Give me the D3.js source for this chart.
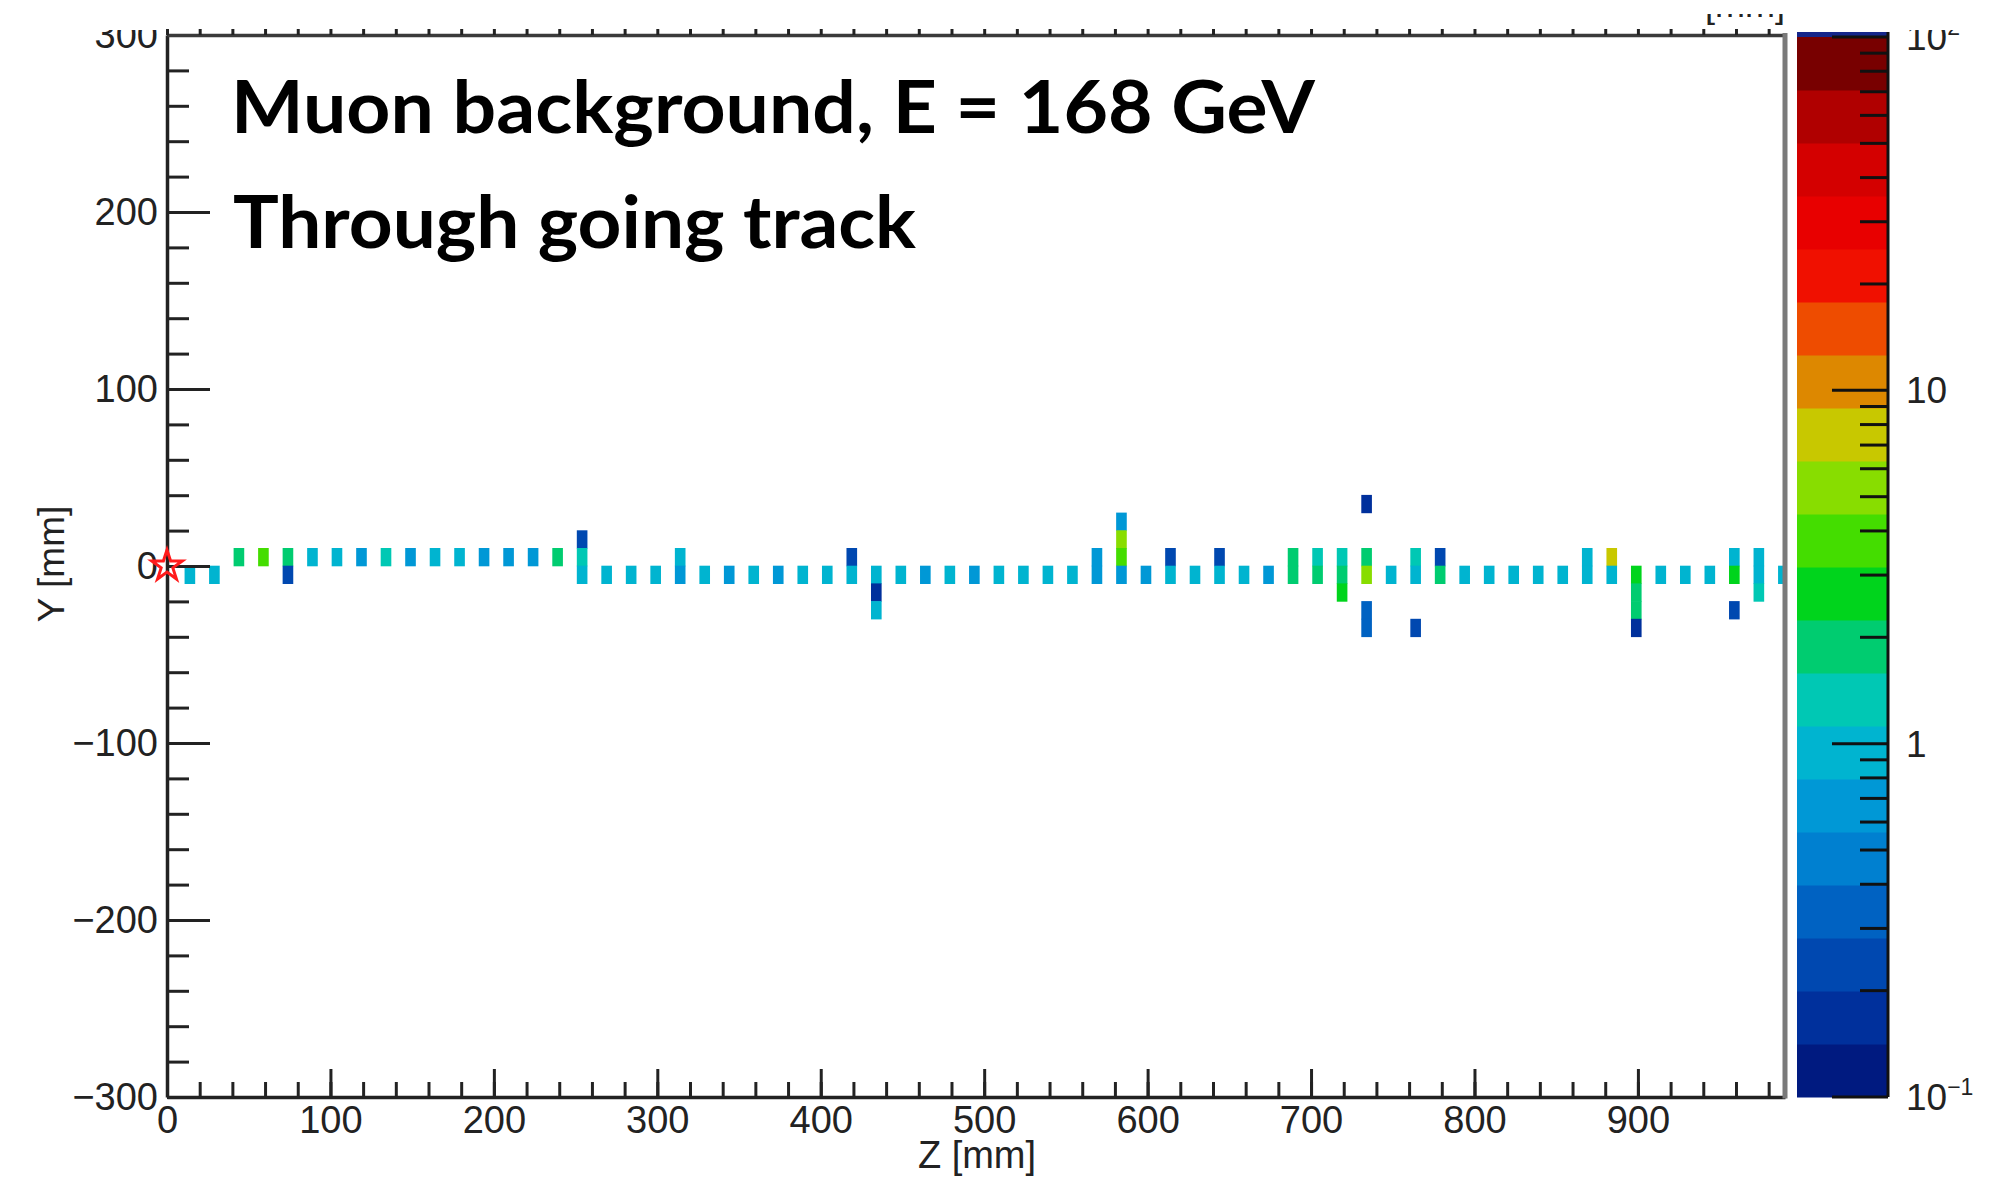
<!DOCTYPE html>
<html>
<head>
<meta charset="utf-8">
<script src="https://cdn.jsdelivr.net/npm/d3@7"></script>
<style>
html,body{margin:0;padding:0;background:#fff;}
svg{display:block;}
</style>
</head>
<body>
<svg id="chart" width="1999" height="1179"></svg>
<script>
// ---------------- data ----------------
const titleLines = ["Muon background, E = 168 GeV", "Through going track"];
const xTickLabels = [0, 100, 200, 300, 400, 500, 600, 700, 800, 900];
const yTickLabels = [-300, -200, -100, 0, 100, 200, 300];
const colorTickLabels = [0.1, 1, 10, 100];

// hit cells: z position of plane (mm), lower edge of Y bin (mm), deposited value
const hitZ = [14,29,44,59,74,74,89,104,119,134,149,164,179,194,209,224,239,254,254,254,
  269,284,299,314,314,329,344,359,374,389,404,419,419,434,434,434,449,464,479,494,509,524,539,554,
  569,569,584,584,584,584,599,614,614,629,644,644,659,674,689,689,704,704,719,719,719,
  734,734,734,734,734,749,764,764,764,779,779,794,809,824,839,854,869,869,884,884,
  899,899,899,899,914,929,944,959,959,959,974,974,974,989];
const hitY = [-10,-10,0,0,0,-10,0,0,0,0,0,0,0,0,0,0,0,10,0,-10,
  -10,-10,-10,0,-10,-10,-10,-10,-10,-10,-10,0,-10,-10,-20,-30,-10,-10,-10,-10,-10,-10,-10,-10,
  0,-10,20,10,0,-10,-10,0,-10,-10,0,-10,-10,-10,0,-10,0,-10,0,-10,-20,
  30,0,-10,-30,-40,-10,0,-10,-40,0,-10,-10,-10,-10,-10,-10,0,-10,0,-10,
  -10,-20,-30,-40,-10,-10,-10,0,-10,-30,0,-10,-20,-10];
const hitE = [0.92,0.88,1.9,3.6,1.8,0.24,0.95,0.9,0.7,1.2,0.66,0.93,0.97,0.72,0.74,0.65,1.85,0.23,1.25,0.9,
  0.95,0.91,0.96,0.94,0.68,0.93,0.7,0.9,0.69,0.95,0.92,0.22,0.9,0.93,0.16,0.95,0.96,0.71,0.92,0.68,0.95,0.93,0.9,0.94,
  0.66,0.7,0.68,5.1,3.3,0.72,0.7,0.23,0.91,0.94,0.21,0.9,0.95,0.7,1.95,2.0,1.45,1.9,1.4,1.8,2.8,
  0.16,1.85,5.0,0.32,0.3,0.92,1.3,0.93,0.25,0.22,1.85,0.93,0.95,0.91,0.94,0.92,0.92,0.9,7.0,0.92,
  2.7,1.9,1.8,0.16,0.93,0.95,0.91,0.8,2.6,0.21,0.95,0.92,1.25,0.9];

// 20-level colour palette, low to high
const palette = ["#001a80","#00309c","#0048b0","#0062c2","#0080d0","#0098d6","#00b4d0","#00c8b4",
  "#00cc70","#00d41c","#44dd00","#88dd00","#c8c800","#dd8800","#ee4c00","#f01000",
  "#e80000","#d40000","#b00000","#780000"];

// ---------------- scales ----------------
const svg = d3.select("#chart");
const x = d3.scaleLinear().domain([0, 990]).range([167, 1785]);
const y = d3.scaleLinear().domain([-300, 300]).range([1097, 35]);
const cbar = d3.scaleLog().domain([0.1, 100]).range([1097, 37]);
const color = d3.scaleQuantize().domain([-1, 2]).range(palette);
const cellW = 6.5, binH = 10;

const defs = svg.append("defs");
defs.append("clipPath").attr("id", "plotClip").append("rect")
  .attr("x", x(0)).attr("y", y(300)).attr("width", x(990) - x(0)).attr("height", y(-300) - y(300));
defs.append("clipPath").attr("id", "topCut").append("rect")
  .attr("x", 0).attr("y", 30).attr("width", 1999).attr("height", 1149);
defs.append("clipPath").attr("id", "fragCut").append("rect")
  .attr("x", 1600).attr("y", 14).attr("width", 200).attr("height", 12);

svg.append("rect").attr("width", 1999).attr("height", 1179).attr("fill", "#fff");

const axisFont = "'Liberation Sans', Arial, Helvetica, sans-serif";
const ink = "#222";

// ---------------- cells ----------------
svg.append("g").attr("clip-path", "url(#plotClip)")
  .selectAll("rect").data(d3.range(hitZ.length)).join("rect")
  .attr("x", i => x(hitZ[i] - cellW / 2))
  .attr("width", x(cellW) - x(0))
  .attr("y", i => y(hitY[i] + binH) - 0.3)
  .attr("height", y(0) - y(binH) + 0.6)
  .attr("fill", i => color(Math.log10(hitE[i])));

// ---------------- axes ----------------
function styleAxis(g) {
  g.selectAll("line").attr("stroke", ink).attr("stroke-width", 3);
  g.selectAll("path.domain").attr("stroke", ink).attr("stroke-width", 3.5);
  g.selectAll("text").attr("font-family", axisFont).attr("font-size", 38).attr("fill", ink);
}

// y minor
svg.append("g").attr("transform", `translate(${x(0)},0)`)
  .call(d3.axisLeft(y).tickValues(d3.range(-300, 301, 20)).tickSize(-22).tickSizeOuter(0).tickFormat(""))
  .call(styleAxis);
// y major with labels (wrapped so the top clipping acts in page coordinates)
svg.append("g").attr("clip-path", "url(#topCut)")
  .append("g").attr("transform", `translate(${x(0)},0)`)
  .call(d3.axisLeft(y).tickValues(yTickLabels).tickSize(-43).tickSizeOuter(0).tickPadding(9))
  .call(styleAxis)
  .call(g => g.select("path.domain").remove());

// x minor
svg.append("g").attr("transform", `translate(0,${y(-300)})`)
  .call(d3.axisBottom(x).tickValues(d3.range(0, 990, 20)).tickSize(-15).tickSizeOuter(0).tickFormat(""))
  .call(styleAxis);
// x major
svg.append("g").attr("transform", `translate(0,${y(-300)})`)
  .call(d3.axisBottom(x).tickValues(xTickLabels).tickSize(-28).tickSizeOuter(0).tickPadding(9))
  .call(styleAxis)
  .call(g => g.select("path.domain").remove());

// top ticks (outward)
svg.append("g").attr("transform", `translate(0,${y(300)})`)
  .call(d3.axisTop(x).tickValues(d3.range(0, 990, 20)).tickSize(6).tickSizeOuter(0).tickFormat(""))
  .call(styleAxis)
  .call(g => g.select("path.domain").attr("stroke", "#3a3a3a"));

// right frame (grey)
svg.append("line").attr("x1", x(990)).attr("x2", x(990)).attr("y1", y(300) - 2).attr("y2", y(-300) + 1.5)
  .attr("stroke", "#7a7a7a").attr("stroke-width", 5);

// axis titles
svg.append("text").text("Y [mm]")
  .attr("transform", "translate(51,564) rotate(-90)")
  .attr("text-anchor", "middle").attr("dominant-baseline", "central")
  .attr("font-family", axisFont).attr("font-size", 37).attr("fill", ink);
svg.append("text").text("Z [mm]")
  .attr("x", 977).attr("y", 1168).attr("text-anchor", "middle")
  .attr("font-family", axisFont).attr("font-size", 38).attr("fill", ink);

// clipped fragment at the top edge
svg.append("text").text("\u2212 [mm]").attr("clip-path", "url(#fragCut)")
  .attr("x", 1785).attr("y", 17).attr("text-anchor", "end")
  .attr("font-family", axisFont).attr("font-size", 36).attr("fill", ink);

// origin marker
svg.append("path")
  .attr("d", d3.symbol().type(d3.symbolStar).size(290)())
  .attr("transform", `translate(${x(0)},${y(0)})`)
  .attr("fill", "none").attr("stroke", "#ff1a1a").attr("stroke-width", 3);

// ---------------- title ----------------
const titleFont = "Lato, 'Open Sans', sans-serif";
svg.append("text").text(titleLines[0])
  .attr("x", 231).attr("y", 133)
  .attr("font-family", titleFont).attr("font-weight", 700).attr("font-size", 72)
  .attr("textLength", 1084).attr("lengthAdjust", "spacingAndGlyphs").attr("fill", "#000");
svg.append("text").text(titleLines[1])
  .attr("x", 233).attr("y", 248)
  .attr("font-family", titleFont).attr("font-weight", 700).attr("font-size", 72)
  .attr("textLength", 683).attr("lengthAdjust", "spacingAndGlyphs").attr("fill", "#000");

// ---------------- colour bar ----------------
const cbX0 = 1797, cbX1 = 1888;
const edges = [-1, ...color.thresholds(), 2];
const cb = svg.append("g");
cb.append("rect").attr("x", cbX0).attr("width", cbX1 - cbX0)
  .attr("y", cbar(100) - 5).attr("height", 5).attr("fill", "#15268a");
cb.selectAll("rect.band").data(palette).join("rect").attr("class", "band")
  .attr("x", cbX0).attr("width", cbX1 - cbX0)
  .attr("y", (d, i) => cbar(Math.pow(10, edges[i + 1])))
  .attr("height", (d, i) => cbar(Math.pow(10, edges[i])) - cbar(Math.pow(10, edges[i + 1])) + 0.5)
  .attr("fill", d => d);
cb.append("line").attr("x1", cbX1).attr("x2", cbX1).attr("y1", cbar(100) - 5).attr("y2", cbar(0.1))
  .attr("stroke", "#111").attr("stroke-width", 3);
const isMajor = v => Math.abs(Math.log10(v) - Math.round(Math.log10(v))) < 1e-6;
cb.selectAll("line.tk").data(cbar.ticks()).join("line").attr("class", "tk")
  .attr("x1", cbX1).attr("x2", v => cbX1 - (isMajor(v) ? 56 : 28))
  .attr("y1", v => cbar(v)).attr("y2", v => cbar(v))
  .attr("stroke", "#111").attr("stroke-width", 3);

const supMap = {"-1": "\u22121", "2": "2"};
const lab = cb.append("g").attr("clip-path", "url(#topCut)")
  .selectAll("text").data(colorTickLabels).join("text")
  .attr("x", 1906).attr("y", v => cbar(v) + 13)
  .attr("font-family", axisFont).attr("font-size", 37).attr("fill", ink);
lab.each(function(v) {
  const e = Math.round(Math.log10(v));
  const t = d3.select(this);
  if (e === 0) { t.text("1"); }
  else if (e === 1) { t.text("10"); }
  else {
    t.append("tspan").text("10");
    t.append("tspan").text(supMap[String(e)]).attr("font-size", 23).attr("dy", -15);
  }
});
</script>
</body>
</html>
